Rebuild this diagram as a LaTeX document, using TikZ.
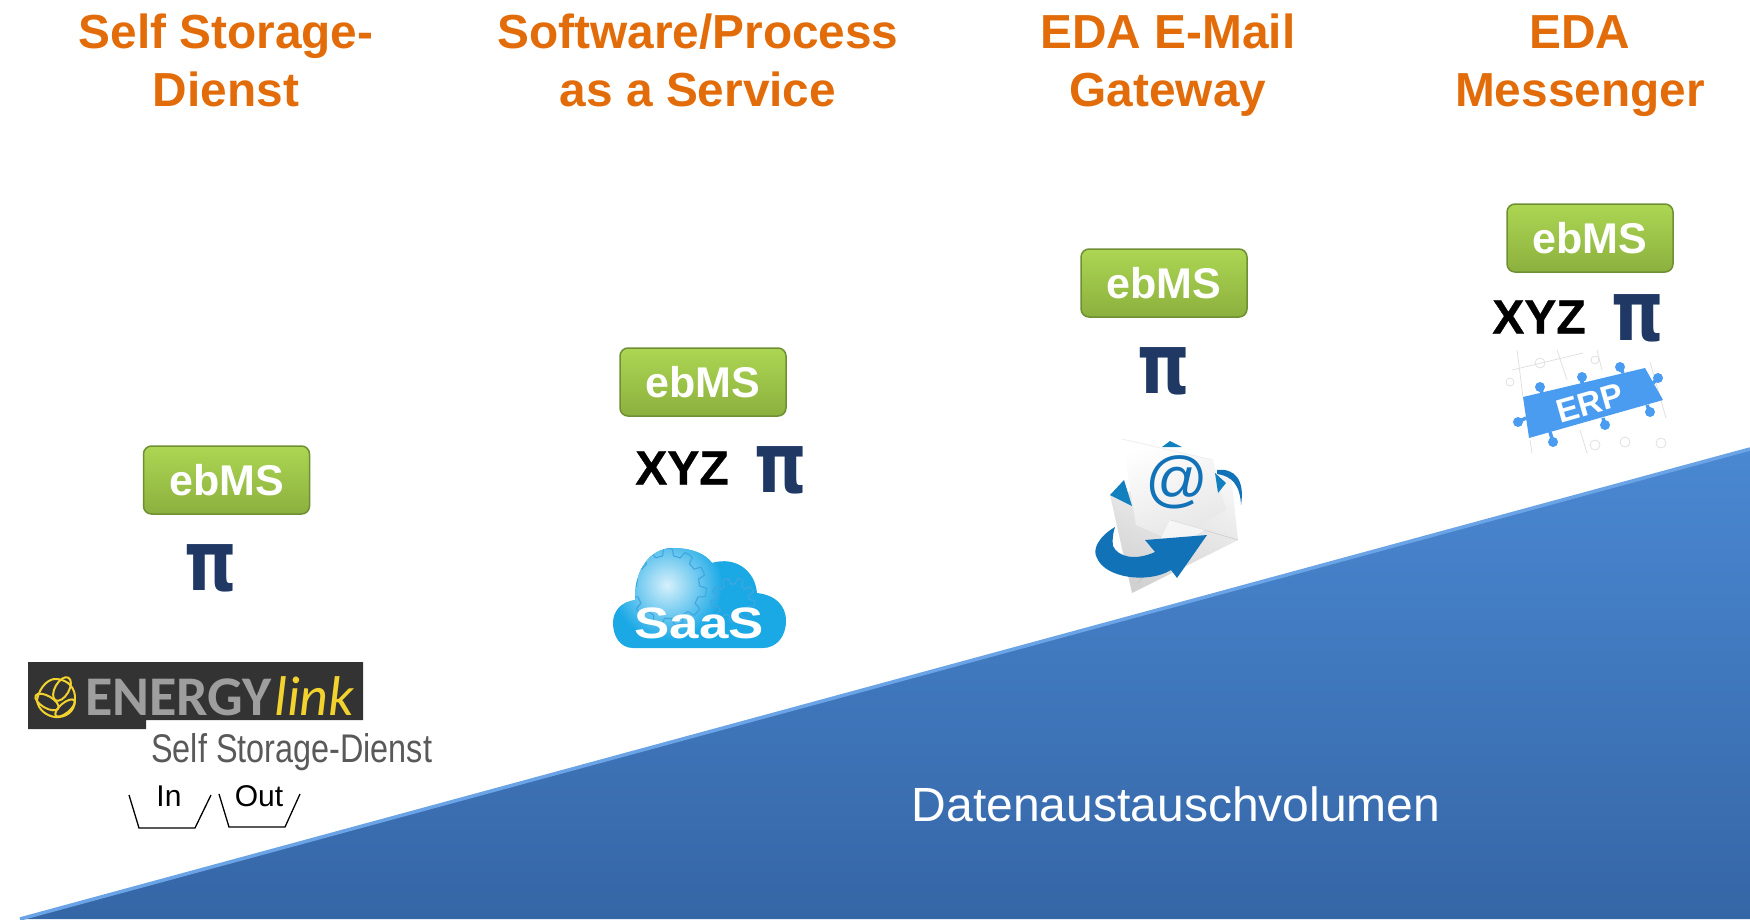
\documentclass[tikz,border=0pt]{standalone}
\usepackage{fontspec}
\setmainfont{Liberation Sans}
\newfontfamily\carlito{Carlito}
\newfontfamily\dejavu{DejaVu Sans}
\newfontfamily\xyzfont[BoldFeatures={FakeBold=0.7}]{Liberation Sans}
\definecolor{orangeT}{HTML}{E36C0A}
\definecolor{piBlue}{HTML}{1F3864}
\definecolor{skyB}{HTML}{1BA9E6}
\definecolor{envB}{HTML}{1272B8}
\definecolor{erpB}{HTML}{4A9CF0}
\definecolor{grTop}{HTML}{ACD653}
\definecolor{grBot}{HTML}{8CB03E}
\definecolor{grEdge}{HTML}{6F8F32}
\definecolor{gearC}{HTML}{3FA6DE}
\definecolor{cloudHi}{HTML}{D6F0FB}
\definecolor{wedgeTop}{HTML}{4A88D2}
\definecolor{wedgeBot}{HTML}{3566A6}
\definecolor{wedgeEdge}{HTML}{6AA4E6}
\definecolor{darkBg}{HTML}{333333}
\definecolor{yel}{HTML}{F2D22E}
\newcommand{\fs}[1]{\fontsize{#1}{#1}\selectfont}
\newcommand{\cloudpath}{(633,648) .. controls (620,648) and (613,636) .. (613,623)
   .. controls (613,610) and (622,602) .. (635,600)
   .. controls (634,570) and (650,548) .. (673,548)
   .. controls (690,548) and (705,553) .. (712,563)
   .. controls (735,556) and (755,570) .. (757,593)
   .. controls (775,595) and (786,605) .. (786,621)
   .. controls (786,637) and (776,648) .. (763,648) -- cycle}
\tikzset{
  x=1pt,y=-1pt,
  title/.style={font=\fs{47.8}\bfseries,text=orangeT,align=center,inner sep=0pt,text depth=0pt},
  ebms/.style={rounded corners=8pt,minimum width=166pt,minimum height=68pt,inner sep=0pt,
     top color=grTop,bottom color=grBot,draw=grEdge,line width=1.5pt,text=white,font=\fs{43}\bfseries},
  pisym/.style={text=piBlue,inner sep=0pt,font=\dejavu\fs{84}\bfseries},
  xyz/.style={text=black,inner sep=0pt,font=\xyzfont\fs{48}\bfseries},
  binline/.style={draw=black,line width=1.3pt},
  bintext/.style={text=black,inner sep=0pt,font=\fs{30}},
  gearline/.style={draw=gearC,line width=1.1pt},
  faint/.style={draw=black!12,line width=.8pt},
}
\begin{document}
\begin{tikzpicture}
\useasboundingbox (0,0) rectangle (1750,919);
% wedge
\coordinate (wl) at (20,919);
\coordinate (wr) at (1750,449);
\coordinate (wb) at (1750,919);
\shade[top color=wedgeTop,bottom color=wedgeBot] (wl) -- (wr) -- (wb) -- cycle;
\draw[draw=wedgeEdge,line width=3.5pt] (wl) -- (wr);
\node[text=white,inner sep=0pt,font=\fs{48}] (vol) at (1176,804) {Datenaustauschvolumen};
% titles
\node[title] (t1) at (226,60) {Self Storage-\\[10pt]Dienst};
\node[title] (t2) at (698,60) {Software/Process\\[10pt]as a Service};
\node[title] (t3) at (1168,60) {EDA E-Mail\\[10pt]Gateway};
\node[title] (t4) at (1580,61) {EDA\\[10pt]Messenger};
% ebMS
\node[ebms] (e1) at (226.5,480) {ebMS};
\node[ebms] (e2) at (703,382) {ebMS};
\node[ebms] (e3) at (1164,283) {ebMS};
\node[ebms] (e4) at (1590,238) {ebMS};
% pi
\node[pisym] (p1) at (211,568) {\scalebox{.79}[1]{π}};
\node[pisym] (p2) at (781,470.5) {\scalebox{.79}[1]{π}};
\node[pisym] (p3) at (1163.5,371) {\scalebox{.79}[1]{π}};
\node[pisym] (p4) at (1638,318) {\scalebox{.79}[1]{π}};
% XYZ
\node[xyz] (x2) at (682,468) {XYZ};
\node[xyz] (x4) at (1539,317) {XYZ};
% Energylink
\fill[fill=darkBg] (28,662) -- (363,662) -- (363,720) -- (146,720) -- (146,729) -- (28,729) -- cycle;
\begin{scope}[draw=yel,line width=2pt]
  \draw (37,700) .. controls (40,685) and (50,678) .. (57,679)
        .. controls (68,680) and (76,688) .. (75,700)
        .. controls (75,712) and (65,718) .. (55,717)
        .. controls (47,716) and (38,710) .. (37,700) -- cycle;
  \draw[rotate around={60:(62,689)}] (62,689) ellipse (13 and 7);
  \draw[rotate around={-30:(47,702)}] (47,702) ellipse (13 and 6);
  \draw[rotate around={40:(65,708)}] (65,708) ellipse (12 and 5);
\end{scope}
\node[anchor=base west,inner sep=0pt,text=black!38,font=\carlito\fs{56}\bfseries] (en) at (85,715) {ENERGY};
\node[anchor=base west,inner sep=0pt,text=yel,font=\carlito\fs{56}\itshape] (li) at (274,715) {link};
\node[anchor=west,inner sep=0pt,text=black!65,font=\fs{40}] (ss) at (151,752) {\scalebox{.81}[1]{Self Storage-Dienst}};
% bins
\node[bintext] (in) at (169,796) {In};
\node[bintext] (out) at (259,796) {Out};
\draw[binline] (129,795) -- (139,828) -- (195,828) -- (211,795);
\draw[binline] (219,794) -- (229,827) -- (285,827) -- (300,794);
% SaaS cloud
\path[fill=skyB] \cloudpath;
\begin{scope}
  \clip \cloudpath;
  \shade[inner color=cloudHi,outer color=skyB] (667,585) circle (55);
  \draw[gearline] plot[domain=0:360,samples=300,variable=\t] ({668+(35+3.5*min(1,max(-1,3*sin(11*\t))))*cos(\t)},{587+(35+3.5*min(1,max(-1,3*sin(11*\t))))*sin(\t)});
  \draw[gearline] plot[domain=0:360,samples=200,variable=\t] ({733+(19+3*min(1,max(-1,3*sin(9*\t))))*cos(\t)},{600+(19+3*min(1,max(-1,3*sin(9*\t))))*sin(\t)});
\end{scope}
\node[text=white,inner sep=0pt,font=\fs{44}\bfseries] (saas) at (699,623) {\scalebox{1.2}[1]{SaaS}};
% Envelope
\shade[top color=black!4,bottom color=black!18,shading angle=-25] (1110,495) -- (1231,473) -- (1238,540) -- (1132,593) -- cycle;
\shade[top color=white,bottom color=black!10,shading angle=20] (1122,439) -- (1213,460) -- (1226,510) -- (1170,540) -- (1136,525) -- cycle;
\draw[black!6,line width=1pt] (1122,439) -- (1213,460);
\fill[envB!90!cyan] (1162,447) -- (1170,441) -- (1182,447) -- cycle;
\fill[envB!90!cyan] (1110,495) -- (1124,480) -- (1132,506) -- cycle;
\fill[envB!90!cyan] (1215,473) -- (1226,483) -- (1218,493) -- cycle;
\draw[black!25,line width=.6pt] (1170,540) -- (1138,583);
\draw[black!20,line width=.6pt] (1170,520) -- (1238,540);
\fill[white,opacity=.6] (1170,520) -- (1205,530) -- (1150,560) -- cycle;
\node[text=envB,inner sep=0pt,font=\fs{62}] (at) at (1177,482) {@};
\fill[envB] (1115,527) .. controls (1098,537) and (1092,550) .. (1097,558)
   .. controls (1105,578) and (1148,584) .. (1171,570)
   -- (1177,578) -- (1207,535) -- (1145,540) -- (1155,552)
   .. controls (1135,561) and (1118,557) .. (1113,546)
   .. controls (1112,540) and (1113,533) .. (1115,527) -- cycle;
\fill[envB] (1217,470) .. controls (1235,468) and (1245,480) .. (1241,505)
   .. controls (1240,485) and (1232,476) .. (1217,474) -- cycle;
% ERP
\draw[faint] (1517,350) -- (1523,397);
\draw[faint] (1557,350) -- (1567,380);
\draw[faint] (1597,350) -- (1602,370);
\draw[faint] (1512,370) -- (1583,353);
\draw[faint] (1530,440) -- (1532,453);
\draw[faint] (1580,430) -- (1587,453);
\draw[faint] (1650,362) -- (1666,418);
\draw[faint] (1540,363) circle (5);
\draw[faint] (1595,360) circle (4);
\draw[faint] (1510,382) circle (4);
\draw[faint] (1595,445) circle (5);
\draw[faint] (1625,442) circle (5);
\draw[faint] (1661,443) circle (5);
\fill[erpB] (1523,397) -- (1645,368) -- (1663,400) -- (1529,438) -- cycle;
\foreach \cx/\cy/\ex/\ey in {1540/387/1542/393,1582/377/1582/383,1620/367/1623/373,1658/378/1653/383,1650/412/1647/405,1605/425/1603/418,1553/442/1550/432,1518/422/1526/418}{
  \fill[erpB] (\cx,\cy) circle (5);
  \draw[erpB,line width=3.5pt] (\cx,\cy) -- (\ex,\ey);
}
\node[text=white,inner sep=0pt,rotate=16,font=\fs{33}\bfseries] (erp) at (1590,403) {ERP};
\end{tikzpicture}
\end{document}
